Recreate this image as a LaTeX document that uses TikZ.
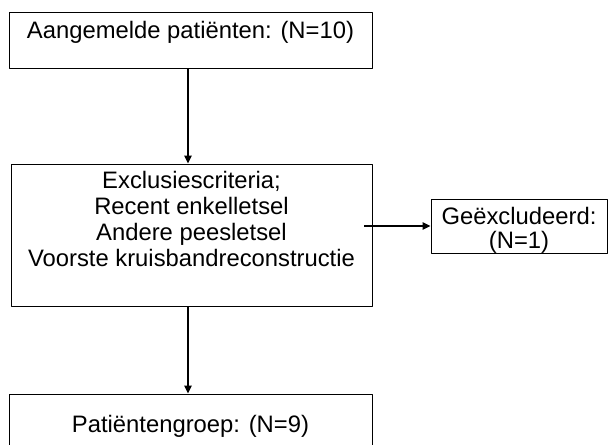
\documentclass[tikz,border=0pt]{standalone}
\usepackage{fontspec}
\setmainfont{Liberation Sans}
\usetikzlibrary{arrows.meta}
\tikzset{
  box/.style={draw, line width=0.9pt, inner sep=0pt},
  txt/.style={anchor=base, inner sep=0pt, font=\fontsize{23.8}{26}\selectfont},
  arr/.style={-{Triangle[width=7.5pt,length=8pt]}, line width=1.3pt}
}
\begin{document}
\begin{tikzpicture}[x=1pt, y=-1pt, line join=round]
	\useasboundingbox (0,0) rectangle (609,444);
	\clip (0,0) rectangle (609,444);
	\node[box, minimum width=363pt, minimum height=56pt] (aanm) at (190.5,40) {};
	\node[box, minimum width=361pt, minimum height=142pt] (excl) at (191.5,235) {};
	\node[box, minimum width=176pt, minimum height=54pt] (geex) at (519,226) {};
	\node[box, minimum width=363pt, minimum height=60pt] (groep) at (190.5,424) {};
	\node[txt] (aanmtxt) at ([yshift=-27pt]aanm.north) {Aangemelde patiënten: (N=10)};
	\node[txt] (excl1) at ([yshift=-25pt]excl.north) {Exclusiescriteria;};
	\node[txt] (excl2) at ([yshift=-26pt]excl1.base) {Recent enkelletsel};
	\node[txt] (excl3) at ([yshift=-26pt]excl2.base) {Andere peesletsel};
	\node[txt] (excl4) at ([yshift=-26pt]excl3.base) {Voorste kruisbandreconstructie};
	\node[txt] (geex1) at ([yshift=-26pt]geex.north) {Geëxcludeerd:};
	\node[txt] (geex2) at ([yshift=-24pt]geex1.base) {(N=1)};
	\node[txt] (groeptxt) at ([yshift=-39pt]groep.north) {Patiëntengroep: (N=9)};
	\draw[arr] ([xshift=-2.5pt]aanm.south) -- ([xshift=-2.5pt]aanm.south |- excl.north);
	\draw[arr] ([xshift=-8pt]excl.east |- geex.west) -- (geex.west);
	\draw[arr] ([xshift=-3.5pt]excl.south) -- ([xshift=-3.5pt]excl.south |- groep.north);
\end{tikzpicture}
\end{document}
